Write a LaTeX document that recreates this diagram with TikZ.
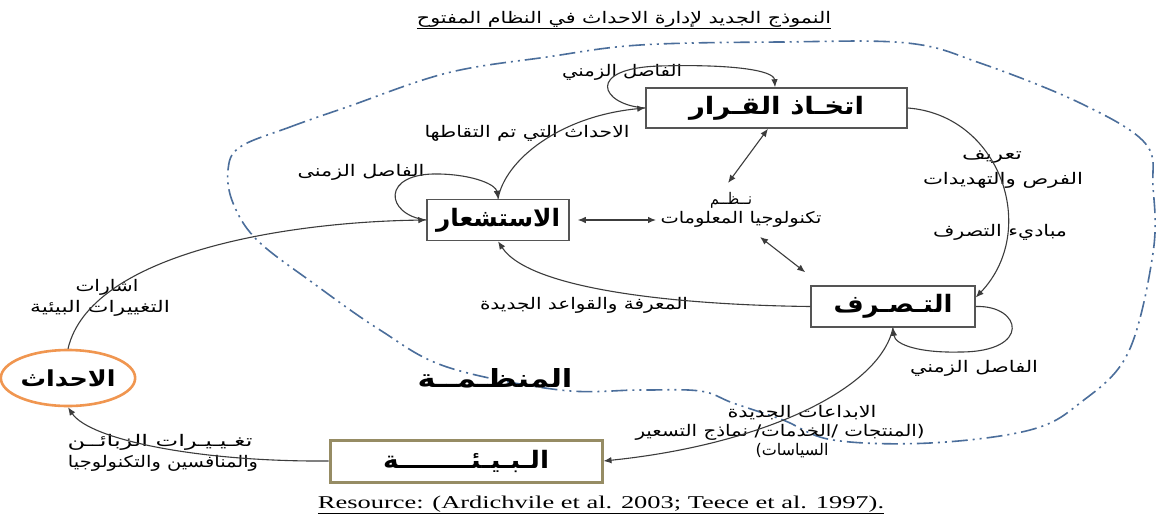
\documentclass[tikz,border=0pt]{standalone}
\usepackage{fontspec}
\usepackage{graphicx}
\usetikzlibrary{arrows.meta,shapes.geometric}
\setmainfont{Liberation Serif}
\newfontfamily\arabicfont[Script=Arabic]{DejaVu Sans}
\TeXXeTstate=1
\definecolor{linegray}{RGB}{60,60,60}
\definecolor{boxgray}{RGB}{85,85,85}
\definecolor{bndblue}{RGB}{75,110,155}
\definecolor{evorange}{RGB}{240,150,80}
\definecolor{envolive}{RGB}{150,140,100}
\newcommand\artxt[3]{\resizebox{#1pt}{\height}{\arabicfont\fontsize{#2}{#2}\selectfont #3}}
\newcommand\arbold[3]{\resizebox{#1pt}{\height}{\arabicfont\bfseries\fontsize{#2}{#2}\selectfont #3}}
\tikzset{
  box/.style={draw=boxgray, line width=1.5pt, fill=white, inner sep=0pt},
  lbl/.style={inner sep=0pt},
  conn/.style={draw=linegray, line width=1.1pt, -{Latex[length=8pt,width=6.5pt]}},
  dconn/.style={draw=linegray, line width=1.1pt, {Latex[length=8pt,width=6.5pt]}-{Latex[length=8pt,width=6.5pt]}},
  bnd/.style={draw=bndblue, line width=1.6pt, dash pattern=on 16pt off 5pt on 2pt off 5pt on 2pt off 5pt},
}
\begin{document}
\begin{tikzpicture}[x=1pt,y=-1pt]
\fill[white] (0,0) rectangle (1158,517);
\useasboundingbox (0,0) rectangle (1158,517);

% organisation boundary
\draw[bnd] plot[smooth cycle, tension=0.6] coordinates {
 (240,147) (290,127) (347,107) (447,73) (547,57) (640,45) (780,42) (907,43)
 (980,63) (1080,103) (1145,143) (1153,187) (1153,253) (1128,353) (1080,403)
 (1030,430) (930,443) (833,440) (783,420) (733,403) (700,391) (640,390)
 (560,390) (447,367) (380,330) (313,283) (257,240) (233,203) (228,170)};

% main nodes
\node[box, minimum width=261pt, minimum height=40pt] (dec) at (776.5,108) {\arbold{175}{24}{\beginR اتخـاذ القـرار\endR}};
\node[box, minimum width=142pt, minimum height=41pt] (sens) at (498,220) {\arbold{124}{24}{\beginR الاستشعار\endR}};
\node[box, minimum width=164pt, minimum height=41pt] (act) at (893,306.5) {\arbold{119}{24}{\beginR التـصـرف\endR}};
\node[box, draw=envolive, line width=3pt, minimum width=272pt, minimum height=42pt] (env) at (466,461) {\arbold{166}{24}{\beginR الـبـيـئــــــــة\endR}};
\node[ellipse, draw=evorange, line width=2.6pt, fill=white, minimum width=120pt, minimum height=56pt, inner sep=0pt] (ev) at (68,378) {\arbold{95}{22}{\beginR الاحداث\endR}};

% labels
\node[lbl] (title) at (624,19) {\artxt{414}{16}{\beginR النموذج الجديد لإدارة الاحداث في النظام المفتوح\endR}};
\draw[line width=0.8pt] ([yshift=-1.5pt]title.south west) -- ([yshift=-1.5pt]title.south east);
\node[lbl] (lDecLoop) at (622,72) {\artxt{120}{16}{\beginR الفاصل الزمني\endR}};
\node[lbl] (lCapt) at (527,133) {\artxt{205}{16}{\beginR الاحداث التي تم التقاطها\endR}};
\node[lbl] (lSensLoop) at (361,172) {\artxt{127}{16}{\beginR الفاصل الزمنى\endR}};
\node[lbl] (it1) at (731,200) {\artxt{42}{16}{\beginR نــظــم\endR}};
\node[lbl] (it2) at (741,219) {\artxt{161}{16}{\beginR تكنولوجيا المعلومات\endR}};
\node[lbl] (lT1) at (992,157) {\artxt{60}{16}{\beginR تعريف\endR}};
\node[lbl] (lT2) at (1003,180) {\artxt{160}{16}{\beginR الفرص والتهديدات\endR}};
\node[lbl] (lT3) at (1000,232) {\artxt{134}{16}{\beginR مباديء التصرف\endR}};
\node[lbl] (lKnow) at (584,305) {\artxt{208}{16}{\beginR المعرفة والقواعد الجديدة\endR}};
\node[lbl] (lActLoop) at (974,368) {\artxt{128}{16}{\beginR الفاصل الزمني\endR}};
\node[lbl] (lSig1) at (107,287) {\artxt{63}{16}{\beginR اشارات\endR}};
\node[lbl] (lSig2) at (100,308) {\artxt{140}{16}{\beginR التغييرات البيئية\endR}};
\node[lbl] (lCh1) at (160,442) {\artxt{185}{16}{\beginR تغـيـيـرات الزبائــن\endR}};
\node[lbl] (lCh2) at (163,463) {\artxt{190}{16}{\beginR والمنافسين والتكنولوجيا\endR}};
\node[lbl] (lIn1) at (802,413) {\artxt{149}{16}{\beginR الابداعات الجديدة\endR}};
\node[lbl] (lIn2) at (780,432) {\artxt{289}{16}{\beginR (المنتجات /الخدمات/ نماذج التسعير\endR}};
\node[lbl] (lIn3) at (792,451) {\artxt{73}{16}{\beginR السياسات)\endR}};
\node[lbl] (org) at (495,378) {\arbold{155}{25}{\beginR المنظـمــة\endR}};
\node[lbl] (res) at (601,504) {\resizebox{566pt}{\height}{\fontsize{18}{18}\selectfont Resource: (Ardichvile et al. 2003; Teece et al. 1997).}};
\draw[line width=0.8pt] ([yshift=-1pt]res.south west) -- ([yshift=-1pt]res.south east);

% free ends near the IT-systems text
\coordinate (itA) at (728,183);
\coordinate (itB) at (760,237);
\coordinate (itL) at (656,220);

% connectors
\draw[conn] (dec.west) .. controls (600,105) and (585,68) .. (660,66)
            .. controls (730,64) and (774,70) .. ([xshift=-1.5pt]dec.north);
\draw[conn] (sens.north) .. controls (505,160) and (560,116) .. (dec.west);
\draw[conn] (sens.west) .. controls (385,215) and (380,172) .. (440,174)
            .. controls (475,175) and (496,185) .. (sens.north);
\draw[conn] (ev.north) .. controls (90,255) and (280,222) .. (sens.west);
\draw[conn] (env.west) .. controls (200,462) and (90,440) .. (ev.south);
\draw[conn] (dec.east) .. controls (1000,115) and (1040,230) .. ([yshift=9pt]act.east);
\draw[conn] (act.east) .. controls (1022,305) and (1032,352) .. (960,352)
            .. controls (920,353) and (895,345) .. (act.south);
\draw[conn] (act.west) .. controls (680,305) and (530,290) .. (sens.south);
\draw[conn] (act.south) .. controls (880,390) and (760,445) .. (env.east);
\draw[dconn] ([xshift=-8.5pt]dec.south) -- (itA);
\draw[dconn] (itB) -- ([xshift=-5pt,yshift=13pt]act.north west);
\draw[dconn] ([xshift=8pt]sens.east) -- (itL);
\end{tikzpicture}
\end{document}
